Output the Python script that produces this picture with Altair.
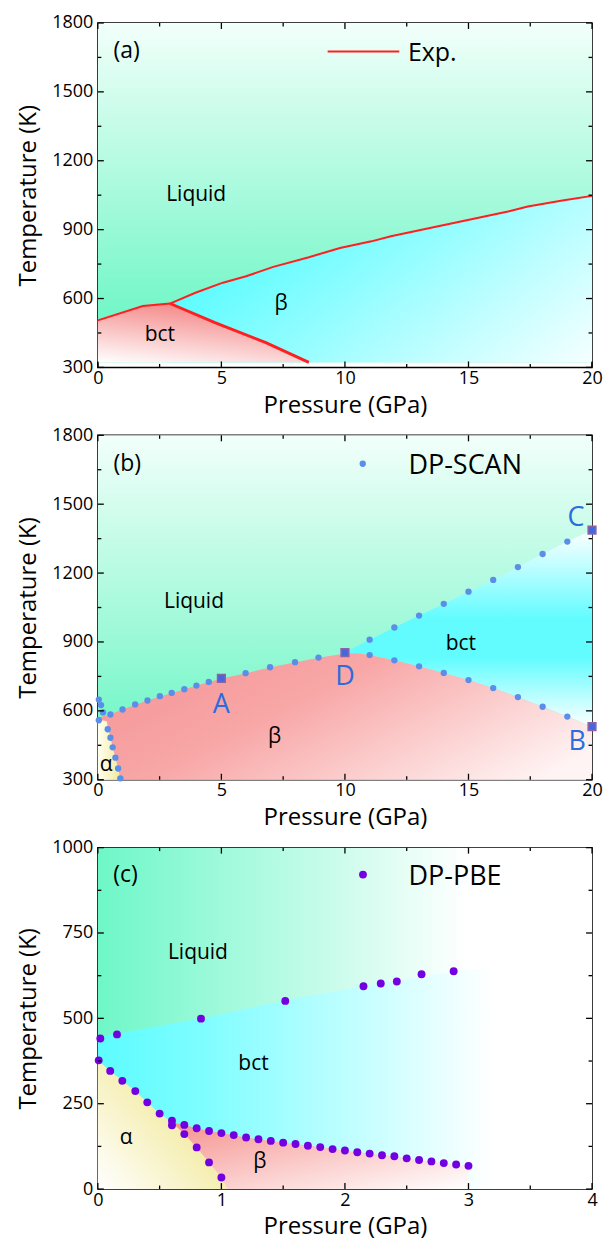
import altair as alt
import pandas as pd

FONT = "Open Sans"
W, H = 495, 345
HC = 342

# ---------------- panel (a): experimental boundaries ----------------
a_melt_P = [0, 1.82, 2.92, 3.95, 5.06, 6.0, 7.1, 8.54, 9.8, 11.07, 11.86, 13.44, 15.02, 16.6, 17.4, 18.8, 20]
a_melt_T = [505, 567, 578, 625, 669, 697, 738, 780, 820, 849, 871, 907, 943, 979, 1001, 1027, 1047]
a_bb_P = [2.92, 4.74, 6.8, 8.54]
a_bb_T = [578, 495, 408, 322]
a_fill_bottom = 322

# ---------------- panel (b): DP-SCAN ----------------
b_melt_P = [1.0, 1.51, 2.01, 2.51, 2.99, 3.5, 3.99, 4.49, 5.98, 6.97, 7.98, 8.93]
b_melt_T = [606, 628, 645, 664, 678, 694, 710, 726, 764, 790, 812, 832]
b_alpha_P = [0.04, 0.13, 0.21, 0.04, 0.51, 0.40, 0.51, 0.60, 0.71, 0.82, 0.91]
b_alpha_T = [649, 625, 593, 559, 584, 520, 483, 441, 396, 349, 306]
b_bct_P = [11, 12, 13, 14, 15, 16, 17, 18, 19]
b_bct_up_T = [910, 963, 1015, 1066, 1119, 1170, 1226, 1283, 1337]
b_bct_lo_T = [843, 820, 794, 765, 734, 699, 660, 618, 575]
b_sq_P = [5, 10, 20, 20]
b_sq_T = [741, 854, 1387, 531]
b_lab_text = ["A", "D", "C", "B"]
b_lab_P = [5, 10, 19.35, 19.4]
b_lab_T = [625, 748, 1441, 466]
# region outlines (b)
b_beta_top_P = [0, 0.5, 1.0, 2.0, 3.0, 4.0, 5.0, 6.0, 7.0, 8.0, 9.0, 10.0, 10.5, 11, 12, 13, 14, 15, 16, 17, 18, 19, 20]
b_beta_top_T = [570, 585, 606, 645, 678, 710, 741, 764, 790, 812, 832, 850, 851, 843, 820, 794, 765, 734, 699, 660, 618, 575, 531]
b_alpha_fill_T = [300, 306, 349, 396, 441, 483, 520, 555, 562]
b_alpha_fill_P = [0.93, 0.91, 0.82, 0.71, 0.60, 0.51, 0.42, 0.36, 0.0]

# ---------------- panel (c): DP-PBE ----------------
c_melt_P = [0.02, 0.155, 0.835, 1.517, 2.15, 2.29, 2.42, 2.62, 2.88]
c_melt_T = [441, 453, 499, 551, 594, 602, 608, 629, 638]
c_bct_P = [0.007, 0.10, 0.198, 0.303, 0.40, 0.50, 0.60, 0.60, 0.70, 0.80, 0.90,
           1.0, 1.1, 1.2, 1.3, 1.4, 1.5, 1.6, 1.7, 1.8, 1.9, 2.0, 2.1, 2.2, 2.3, 2.4, 2.5, 2.6, 2.7, 2.8, 2.9, 3.0]
c_bct_T = [377, 346, 317, 287, 254, 221, 200, 187, 188, 178, 170,
           164, 158, 151, 146, 141, 136, 132, 127, 123, 117, 113, 108, 104, 99, 96, 90, 85, 81, 76, 72, 68]
c_ab_P = [0.70, 0.80, 0.90, 1.0]
c_ab_T = [161, 122, 78, 34]
# region outlines (c)
c_bctfill_P = [0, 0.84, 1.52, 2.15, 2.88, 3.2]
c_bctfill_T = [445, 500, 553, 594, 638, 650]
c_betafill_P = [0.6, 0.7, 0.8, 0.9, 1.0, 1.2, 1.4, 1.6, 1.8, 2.0, 2.2, 2.4, 2.6, 2.8, 3.0]
c_betafill_T = [195, 188, 178, 170, 164, 151, 141, 132, 123, 113, 104, 96, 85, 76, 68]
c_alphafill_P = [0, 0.1, 0.2, 0.3, 0.4, 0.5, 0.6, 0.7, 0.8, 0.9, 1.0, 1.05]
c_alphafill_T = [377, 346, 317, 287, 254, 221, 195, 161, 122, 78, 34, 0]


def grad(stops, x1=0, y1=0, x2=1, y2=0):
    return {"gradient": "linear", "x1": x1, "y1": y1, "x2": x2, "y2": y2,
            "stops": [{"offset": o, "color": c} for o, c in stops]}


class Ax:
    def __init__(self, xdom, ydom, xmaj, ymaj):
        self.xs = alt.Scale(domain=xdom, nice=False, zero=False)
        self.ys = alt.Scale(domain=ydom, nice=False, zero=False)
        self.xa = alt.Axis(values=xmaj, title="Pressure (GPa)", format="d",
                           labelPadding=2, titlePadding=6, labelFlush=False, labelOverlap=False)
        self.ya = alt.Axis(values=ymaj, title="Temperature (K)", format="d",
                           labelPadding=5, titlePadding=11, labelFlush=False, labelOverlap=False)

    def X(self, f):
        return alt.X(f, type="quantitative", scale=self.xs, axis=self.xa)

    def Y(self, f):
        return alt.Y(f, type="quantitative", scale=self.ys, axis=self.ya)


def rect(ax, x0, x1, y0, y1, g):
    df = pd.DataFrame({"x0": [x0], "x1": [x1], "y0": [y0], "y1": [y1]})
    return alt.Chart(df).mark_rect(color=g).encode(
        x=ax.X("x0"), x2="x1:Q", y=ax.Y("y0"), y2="y1:Q")


def area(ax, P, T, base, g):
    df = pd.DataFrame({"P": P, "T": T, "B": [base] * len(P)})
    return alt.Chart(df).mark_area(color=g, interpolate="linear").encode(
        x=ax.X("P"), y=ax.Y("T"), y2="B:Q")


def band(ax, P, Tup, Tlo, g):
    df = pd.DataFrame({"P": P, "T": Tup, "B": Tlo})
    return alt.Chart(df).mark_area(color=g, interpolate="linear").encode(
        x=ax.X("P"), y=ax.Y("T"), y2="B:Q")


def harea(ax, T, P, g):
    df = pd.DataFrame({"P": P, "T": T, "Z": [0.0] * len(P)})
    return alt.Chart(df).mark_area(color=g, orient="horizontal", interpolate="linear").encode(
        y=ax.Y("T"), x=ax.X("Z"), x2="P:Q")


def texts(ax, P, T, labels, size, color, align="center"):
    df = pd.DataFrame({"P": P, "T": T, "L": labels})
    return alt.Chart(df).mark_text(font=FONT, fontSize=size, color=color, align=align,
                                   baseline="middle").encode(
        x=ax.X("P"), y=ax.Y("T"), text="L:N")


def dots(ax, P, T, **kw):
    df = pd.DataFrame({"P": P, "T": T})
    return alt.Chart(df).mark_circle(opacity=1, **kw).encode(x=ax.X("P"), y=ax.Y("T"))


def ticks(ax, h, xmaj, xmin, ymaj, ymin):
    out = []
    for vals, L in [(xmaj, 6), (xmin, 3.5)]:
        ch = alt.Chart(pd.DataFrame({"v": vals})).mark_rule(color="black", strokeWidth=1.3)
        out.append(ch.encode(x=ax.X("v"), y=alt.value(h), y2=alt.value(h - L)))
        out.append(ch.encode(x=ax.X("v"), y=alt.value(0), y2=alt.value(L)))
    for vals, L in [(ymaj, 6), (ymin, 3.5)]:
        ch = alt.Chart(pd.DataFrame({"v": vals})).mark_rule(color="black", strokeWidth=1.3)
        out.append(ch.encode(y=ax.Y("v"), x=alt.value(0), x2=alt.value(L)))
        out.append(ch.encode(y=ax.Y("v"), x=alt.value(W), x2=alt.value(W - L)))
    return out


LIQ_V = grad([(0, "#f2fffa"), (1, "#5ef5c0")], 0, 0, 0, 1)
CYAN = "#5cfcff"
YEL = "#f2e99a"

# ---------------- panel (a) ----------------
xdom, ydom = [0, 20], [300, 1800]
xmaj, xmin = [0, 5, 10, 15, 20], [2.5, 7.5, 12.5, 17.5]
ymaj, ymin = [300, 600, 900, 1200, 1500, 1800], [450, 750, 1050, 1350, 1650]
ax = Ax(xdom, ydom, xmaj, ymaj)

a_layers = [rect(ax, 0, 20, a_fill_bottom, 1800, LIQ_V)]
a_layers.append(area(ax, a_melt_P[2:], a_melt_T[2:], a_fill_bottom,
                     grad([(0, CYAN), (1, "#ffffff")], 0, 0.65, 1, 1.15)))
a_layers.append(area(ax, a_melt_P[:3] + a_bb_P[1:], a_melt_T[:3] + a_bb_T[1:], a_fill_bottom,
                     grad([(0, "#ffffff"), (1, "#f48888")], 0, 1, 0.4, 0)))
a_layers.append(alt.Chart(pd.DataFrame({"P": a_melt_P, "T": a_melt_T})).mark_line(
    color="#ff1f1f", strokeWidth=2).encode(x=ax.X("P"), y=ax.Y("T")))
a_layers.append(alt.Chart(pd.DataFrame({"P": a_bb_P, "T": a_bb_T})).mark_line(
    color="#ff1f1f", strokeWidth=2.8).encode(x=ax.X("P"), y=ax.Y("T")))
a_layers.append(alt.Chart(pd.DataFrame({"P": [9.3], "P2": [12.2], "T": [1676]})).mark_rule(
    color="#ff1f1f", strokeWidth=2).encode(x=ax.X("P"), x2="P2:Q", y=ax.Y("T")))
a_layers.append(texts(ax, [12.55], [1668], ["Exp."], 25, "black", "left"))
a_layers.append(texts(ax, [0.63], [1680], ["(a)"], 23, "black", "left"))
a_layers.append(texts(ax, [3.98, 2.51, 7.42], [1051, 441, 575], ["Liquid", "bct", "β"], 21, "black"))
a_layers += ticks(ax, H, xmaj, xmin, ymaj, ymin)
panel_a = alt.layer(*a_layers).properties(width=W, height=H)

# ---------------- panel (b) ----------------
ax = Ax(xdom, ydom, xmaj, ymaj)
b_layers = [rect(ax, 0, 20, 300, 1800, LIQ_V)]
b_layers.append(band(ax, [10] + b_bct_P + [20], [854] + b_bct_up_T + [1387], [854] + b_bct_lo_T + [531],
                     grad([(0, "#ffffff"), (0.45, "#62fcff"), (0.65, "#62fcff"), (1, "#ffffff")], 0, 0, 0, 1)))
b_layers.append(area(ax, b_beta_top_P, b_beta_top_T, 300,
                     grad([(0, "#f5989a"), (0.35, "#f8a6a6"), (1, "#fff4f4")], 0, 0.3, 1, 0.8)))
b_layers.append(harea(ax, b_alpha_fill_T, b_alpha_fill_P, grad([(0, "#fffff2"), (1, YEL)], 0, 0, 1, 0)))
b_layers.append(dots(ax, b_melt_P + b_alpha_P + b_bct_P + b_bct_P,
                     b_melt_T + b_alpha_T + b_bct_up_T + b_bct_lo_T, size=40, color="#5b8ee8"))
b_layers.append(alt.Chart(pd.DataFrame({"P": b_sq_P, "T": b_sq_T})).mark_square(
    size=60, fill="#4566dd", stroke="#8c64a6", strokeWidth=1.5, opacity=1, filled=True).encode(
    x=ax.X("P"), y=ax.Y("T")))
b_layers.append(texts(ax, b_lab_P, b_lab_T, b_lab_text, 27, "#2b6cde"))
b_layers.append(dots(ax, [10.72], [1676], size=40, color="#5b8ee8"))
b_layers.append(texts(ax, [12.57], [1668], ["DP-SCAN"], 27, "black", "left"))
b_layers.append(texts(ax, [0.63], [1676], ["(b)"], 23, "black", "left"))
b_layers.append(texts(ax, [3.89, 14.69, 7.15, 0.34], [1073, 890, 488, 365], ["Liquid", "bct", "β", "α"],
                      21, "black"))
b_layers += ticks(ax, H, xmaj, xmin, ymaj, ymin)
panel_b = alt.layer(*b_layers).properties(width=W, height=H)

# ---------------- panel (c) ----------------
xdom, ydom = [0, 4], [0, 1000]
xmaj, xmin = [0, 1, 2, 3, 4], [0.5, 1.5, 2.5, 3.5]
ymaj, ymin = [0, 250, 500, 750, 1000], [125, 375, 625, 875]
ax = Ax(xdom, ydom, xmaj, ymaj)
c_layers = [rect(ax, 0, 4, 0, 1000, grad([(0, "#6ef7c8"), (0.75, "#ffffff"), (1, "#ffffff")], 0, 0, 1, 0))]
c_layers.append(area(ax, c_bctfill_P, c_bctfill_T, 0,
                     grad([(0, CYAN), (0.25, "#7cfdff"), (1, "#ffffff")], 0, 0, 1, 0)))
c_layers.append(area(ax, c_betafill_P, c_betafill_T, 0, grad([(0, "#f5938f"), (1, "#ffffff")], 0, 0, 1, 1)))
c_layers.append(area(ax, c_alphafill_P, c_alphafill_T, 0,
                     grad([(0, "#ffffff"), (1, YEL)], 0, 1, 0.75, 0.35)))
c_layers.append(dots(ax, c_melt_P + c_bct_P + c_ab_P, c_melt_T + c_bct_T + c_ab_T, size=62, color="#7200e0"))
c_layers.append(dots(ax, [2.146], [921], size=62, color="#7200e0"))
c_layers.append(texts(ax, [2.515], [914], ["DP-PBE"], 27, "black", "left"))
c_layers.append(texts(ax, [0.125], [921], ["(c)"], 23, "black", "left"))
c_layers.append(texts(ax, [0.81, 1.26, 0.23, 1.31], [692, 365, 151, 78], ["Liquid", "bct", "α", "β"],
                      21, "black"))
c_layers += ticks(ax, HC, xmaj, xmin, ymaj, ymin)
panel_c = alt.layer(*c_layers).properties(width=W, height=HC)

chart = alt.vconcat(panel_a, panel_b, panel_c, spacing=7).properties(
    padding={"left": 16, "top": 12, "right": 8, "bottom": 0},
    background="white",
).configure_view(stroke="black", strokeWidth=1.5).configure_axis(
    domain=False, ticks=False, grid=False,
    labelFont=FONT, labelFontSize=18, labelColor="black",
    titleFont=FONT, titleFontSize=24, titleFontWeight="normal", titleColor="black",
)

chart.save("out.html", embed_options={"renderer": "svg", "actions": False})
